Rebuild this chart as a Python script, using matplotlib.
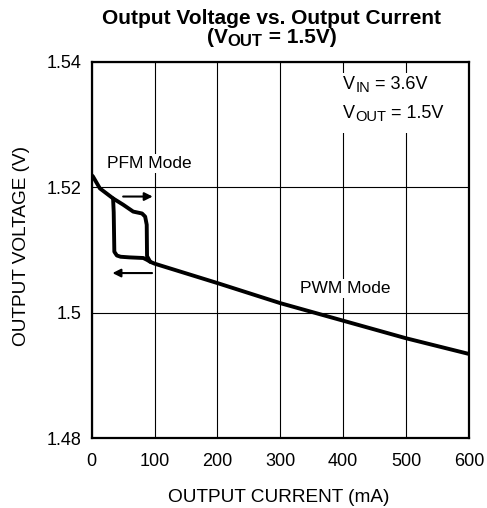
import matplotlib
matplotlib.use("Agg")
import matplotlib.pyplot as plt
from matplotlib.patches import Rectangle

plt.rcParams['font.family'] = ['Liberation Sans', 'DejaVu Sans']

# Main (PWM) curve, with the PFM hysteresis upper branch
upper_x = [0, 2, 13, 34, 50, 66, 80, 85, 87.5, 88, 93, 100, 200, 300, 400, 500, 600]
upper_y = [1.5219, 1.5217, 1.5198, 1.5182, 1.5172, 1.5161, 1.5158, 1.5153, 1.5140, 1.5090, 1.5081, 1.5078,
           1.5047, 1.5015, 1.4987, 1.4959, 1.4934]
# Lower branch of the PFM hysteresis loop
lower_x = [34, 35, 36, 40, 46, 60, 82, 88, 93]
lower_y = [1.5182, 1.5160, 1.5097, 1.5091, 1.5089, 1.5088, 1.5087, 1.5084, 1.5081]

x_ticks = [0, 100, 200, 300, 400, 500, 600]
y_ticks = [1.48, 1.50, 1.52, 1.54]
y_tick_labels = ['1.48', '1.5', '1.52', '1.54']

W, H = 487, 508
fig = plt.figure(figsize=(W / 100, H / 100), dpi=100)
ax = fig.add_axes([91.7 / W, 1 - 438 / H, (469 - 91.7) / W, (438 - 61.7) / H])

ax.plot(upper_x, upper_y, color='black', lw=2.8, solid_joinstyle='round', solid_capstyle='round', zorder=4)
ax.plot(lower_x, lower_y, color='black', lw=2.8, solid_joinstyle='round', solid_capstyle='round', zorder=4)

ax.set_xlim(0, 600)
ax.set_ylim(1.48, 1.54)
ax.set_xticks(x_ticks)
ax.set_yticks(y_ticks)
ax.set_yticklabels(y_tick_labels)
ax.grid(True, color='black', lw=0.8, zorder=1)
ax.set_axisbelow(True)
ax.tick_params(axis='both', length=0, labelsize=13)
ax.tick_params(axis='x', pad=11)
ax.tick_params(axis='y', pad=7)
for s in ax.spines.values():
    s.set_linewidth(1.6)
    s.set_color('black')
    s.set_zorder(5)

ax.set_xlabel('OUTPUT CURRENT (mA)', fontsize=13.7)
ax.set_ylabel('OUTPUT VOLTAGE (V)', fontsize=13.7)
ax.xaxis.set_label_coords(0.495, -0.136)
ax.yaxis.set_label_coords(-0.163, 0.51)


def sub_text(x, y, main, sub, rest, size, subsize, transform, weight='normal', drop=1.5):
    t1 = ax.text(x, y, main, fontsize=size, fontweight=weight, ha='left', va='baseline',
                 transform=transform, zorder=6)
    t2 = ax.annotate(sub, xy=(1, 0), xycoords=t1, xytext=(0, -drop), textcoords='offset points',
                     fontsize=subsize, fontweight=weight, ha='left', va='bottom',
                     annotation_clip=False, zorder=6)
    ax.annotate(rest, xy=(1, 0), xycoords=(t2, t1), fontsize=size, fontweight=weight,
                ha='left', va='bottom', annotation_clip=False, zorder=6)


# Title
fig.text(272 / W, 1 - 23.5 / H, 'Output Voltage vs. Output Current', ha='center', va='baseline',
         fontsize=15, fontweight='bold')
sub_text(207 / W, 1 - 43 / H, '(V', 'OUT', ' = 1.5V)', 15, 12, fig.transFigure, weight='bold', drop=1.5)

# Conditions box (white background interrupts the grid lines)
ax.add_patch(Rectangle((396, 1.5286), 204, 0.0096, facecolor='white', edgecolor='none', zorder=2))
sub_text(400, 1.5356, 'V', 'IN', ' = 3.6V', 13, 10.5, ax.transData)
sub_text(400, 1.5311, 'V', 'OUT', ' = 1.5V', 13, 10.5, ax.transData)

bbox = dict(facecolor='white', edgecolor='none', pad=1.5)
ax.text(91, 1.5230, 'PFM Mode', fontsize=12.5, ha='center', va='baseline', bbox=bbox, zorder=3)
ax.text(403, 1.5031, 'PWM Mode', fontsize=12.5, ha='center', va='baseline', bbox=bbox, zorder=3)

arrow = dict(arrowstyle='-|>', color='black', lw=1.5, mutation_scale=12, shrinkA=0, shrinkB=0)
ax.annotate('', xy=(97, 1.5185), xytext=(50, 1.5185), arrowprops=arrow, zorder=4)
ax.annotate('', xy=(33, 1.5063), xytext=(96, 1.5063), arrowprops=arrow, zorder=4)

fig.savefig('out.png', dpi=100)
